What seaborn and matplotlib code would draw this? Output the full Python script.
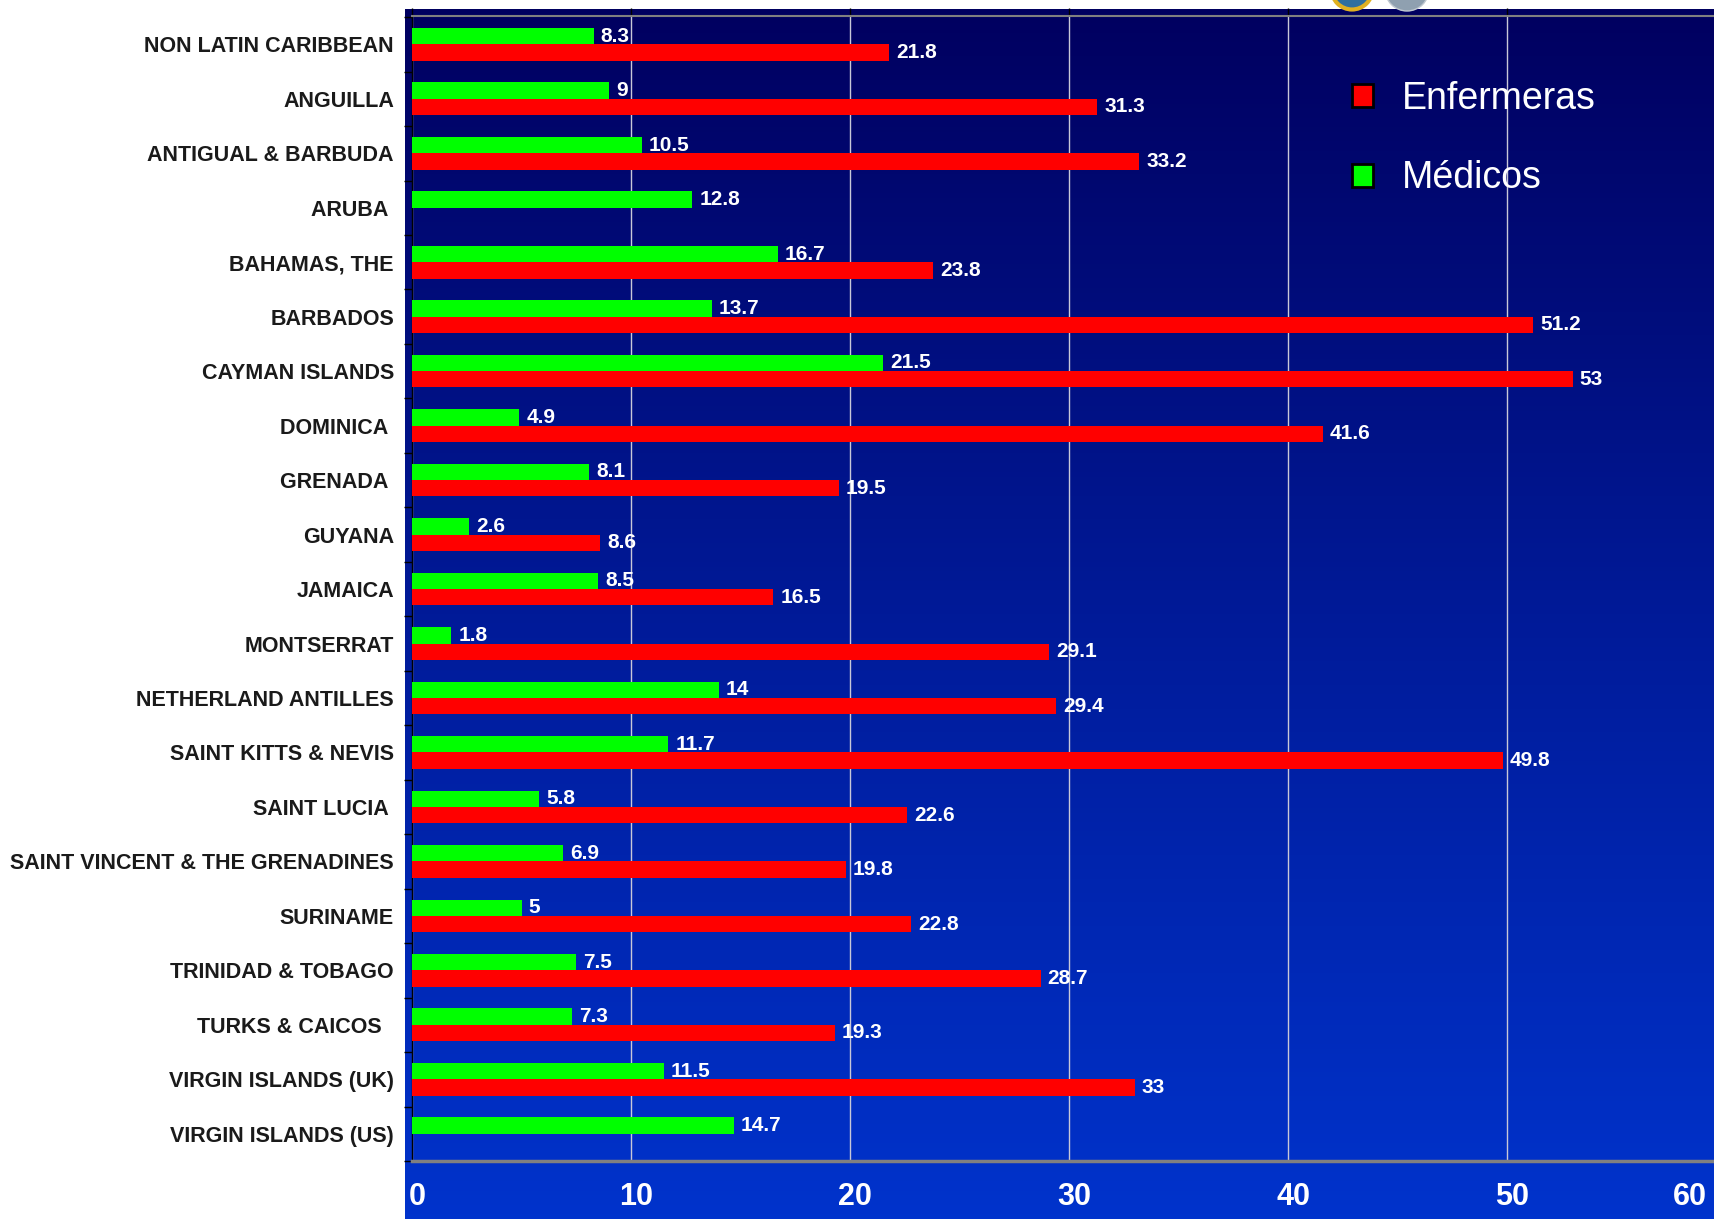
import numpy as np
import pandas as pd
import matplotlib
matplotlib.use("Agg")
import matplotlib.pyplot as plt
import seaborn as sns
from matplotlib.patches import Patch, Ellipse
from matplotlib.colors import LinearSegmentedColormap
from matplotlib.transforms import ScaledTranslation

# ---------------- data ----------------
countries = [
    "NON LATIN CARIBBEAN", "ANGUILLA", "ANTIGUAL & BARBUDA", "ARUBA ",
    "BAHAMAS, THE", "BARBADOS", "CAYMAN ISLANDS", "DOMINICA ", "GRENADA ",
    "GUYANA", "JAMAICA", "MONTSERRAT", "NETHERLAND ANTILLES",
    "SAINT KITTS & NEVIS", "SAINT LUCIA ", "SAINT VINCENT & THE GRENADINES",
    "SURINAME", "TRINIDAD & TOBAGO", "TURKS & CAICOS  ",
    "VIRGIN ISLANDS (UK)", "VIRGIN ISLANDS (US)",
]
medicos = [8.3, 9, 10.5, 12.8, 16.7, 13.7, 21.5, 4.9, 8.1, 2.6, 8.5, 1.8,
           14, 11.7, 5.8, 6.9, 5, 7.5, 7.3, 11.5, 14.7]
enfermeras = [21.8, 31.3, 33.2, np.nan, 23.8, 51.2, 53, 41.6, 19.5, 8.6, 16.5,
              29.1, 29.4, 49.8, 22.6, 19.8, 22.8, 28.7, 19.3, 33, np.nan]
series_names = ["Médicos", "Enfermeras"]
series_colors = {"Médicos": "#00FF00", "Enfermeras": "#FF0000"}
x_ticks = [0, 10, 20, 30, 40, 50]
x_extra_label = "60"

df = pd.DataFrame({
    "country": countries * 2,
    "value": medicos + enfermeras,
    "tipo": ["Médicos"] * len(countries) + ["Enfermeras"] * len(countries),
}).dropna()

# ---------------- figure ----------------
sns.set_theme(style="white")
plt.rcParams["font.family"] = ["Liberation Sans", "DejaVu Sans"]

W, H = 1714, 1219
fig = plt.figure(figsize=(W / 100, H / 100), dpi=100)
fig.patch.set_facecolor("white")

# gradient background
bg = fig.add_axes([405 / W, 0, 1 - 405 / W, (H - 9) / H], zorder=0)
cmap = LinearSegmentedColormap.from_list("bgc", ["#0033CC", "#001A98", "#000060"])
grad = np.linspace(0, 1, 256).reshape(-1, 1)
bg.imshow(grad, aspect="auto", cmap=cmap, extent=[0, 1, 0, 1], origin="lower")
bg.set_axis_off()

ax = fig.add_axes([412 / W, (H - 1161) / H, 1 - 412 / W, (1161 - 16) / H], zorder=1)
ax.set_facecolor("none")

sns.barplot(data=df, y="country", x="value", hue="tipo", order=countries,
            hue_order=series_names, palette=series_colors, orient="h",
            width=0.6, saturation=1, errorbar=None, legend=False, ax=ax,
            linewidth=0, zorder=3)

ax.set_xlim(0, 59.45)
ax.set_ylim(len(countries) - 0.5 - 0.02, -0.5 - 0.02)
ax.set_xlabel("")
ax.set_ylabel("")

# grid
ax.set_axisbelow(True)
ax.set_xticks(x_ticks)
ax.xaxis.grid(True, color="#C8C8D8", linewidth=1)
ax.yaxis.grid(False)

# value labels
for c in ax.containers:
    ax.bar_label(c, labels=[f"{v:g}" for v in c.datavalues], padding=5,
                 color="white", fontweight="bold", fontsize=15)

# x ticks: marks on top, labels at bottom
ax.tick_params(axis="x", which="major", top=True, bottom=False, labeltop=False,
               labelbottom=True, direction="out", length=6, width=1,
               color="black", pad=9, labelsize=22, labelcolor="white")
for lbl in ax.get_xticklabels():
    lbl.set_fontweight("bold")
    lbl.set_transform(lbl.get_transform() + ScaledTranslation(5 / 100, 0, fig.dpi_scale_trans))
ax.text(1.0, 0, x_extra_label, transform=ax.transAxes +
        ScaledTranslation(-7 / 100, -15 / 72, fig.dpi_scale_trans),
        ha="right", va="top", color="white", fontsize=22, fontweight="bold")

# y ticks: labels at categories, marks at boundaries
ax.set_yticks(range(len(countries)))
ax.set_yticklabels(countries)
ax.set_yticks(np.arange(-0.5, len(countries), 1.0), minor=True)
ax.tick_params(axis="y", which="major", length=0, pad=13, labelsize=15.5,
               labelcolor="#1a1a1a")
ax.tick_params(axis="y", which="minor", left=True, length=6, width=1,
               color="black", direction="out")
for lbl in ax.get_yticklabels():
    lbl.set_fontweight("bold")

# spines
ax.spines["right"].set_visible(False)
ax.spines["left"].set_color("black")
ax.spines["left"].set_linewidth(1)
ax.spines["top"].set_color("#808080")
ax.spines["top"].set_linewidth(1.5)
ax.spines["bottom"].set_color("#808080")
ax.spines["bottom"].set_linewidth(2.5)

# legend
handles = [Patch(facecolor=series_colors[n], edgecolor="black", linewidth=2)
           for n in ["Enfermeras", "Médicos"]]
leg = ax.legend(handles, ["Enfermeras", "Médicos"], loc="upper left",
                bbox_to_anchor=(1352 / W, (H - 81) / H),
                bbox_transform=fig.transFigure, frameon=False, fontsize=27,
                labelcolor="white", handlelength=0.57, handleheight=0.57,
                handletextpad=0.75, labelspacing=1.16, borderpad=0,
                borderaxespad=0)

# logo fragments at the top edge
fig.patches.append(Ellipse((1352 / W, (H + 11) / H), 41 / W, 41 / H,
                           transform=fig.transFigure, facecolor="#2f6f9f",
                           edgecolor="#E0B020", linewidth=3, zorder=5))
fig.patches.append(Ellipse((1407 / W, (H + 11) / H), 44 / W, 44 / H,
                           transform=fig.transFigure, facecolor="#8fa0b0",
                           edgecolor="#c0c8d0", linewidth=1, zorder=5))

fig.savefig("out.png", dpi=100, facecolor=fig.get_facecolor())
